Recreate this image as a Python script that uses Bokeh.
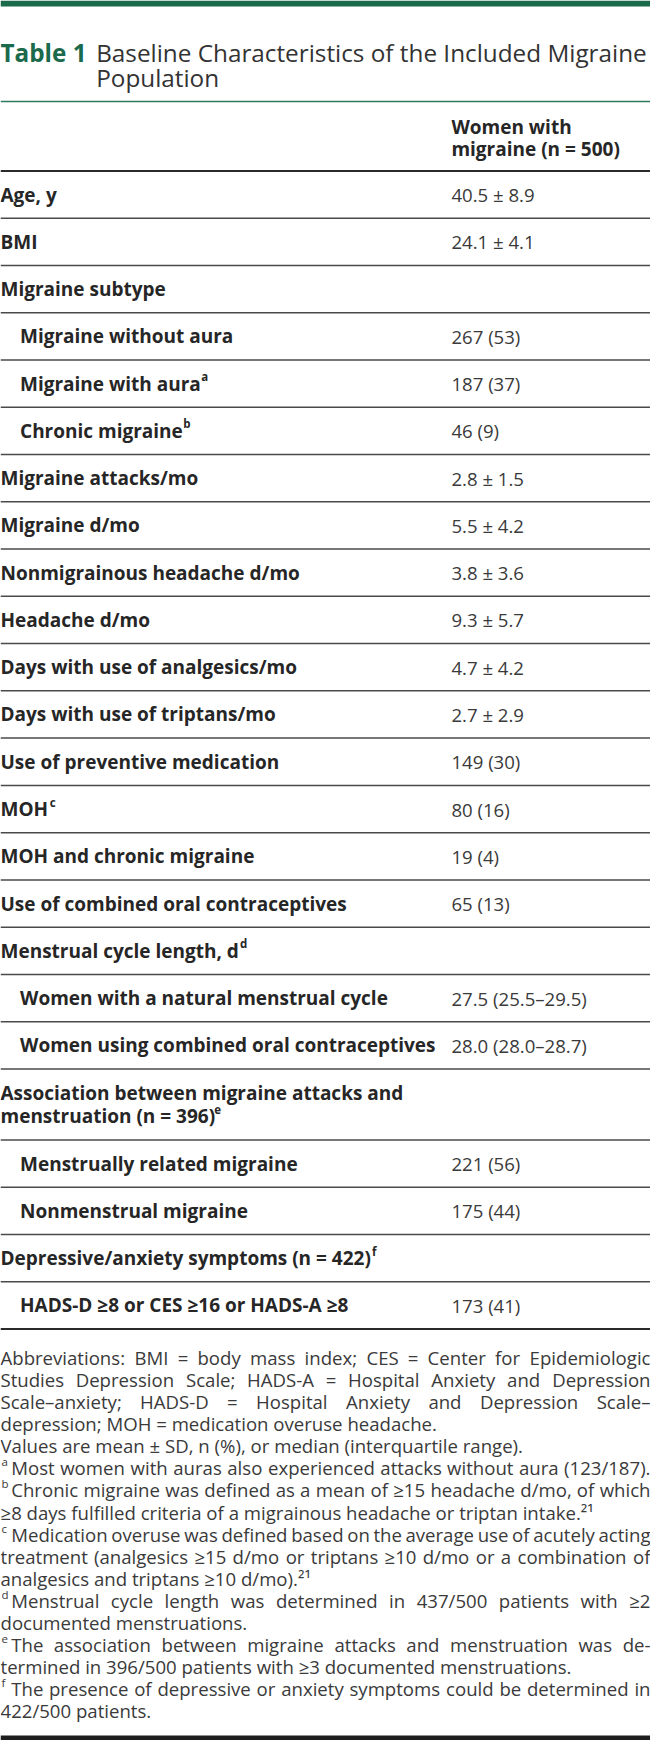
from bokeh.plotting import figure
from bokeh.models import Range1d, ColumnDataSource
from bokeh.embed import file_html
from bokeh.resources import INLINE
from bokeh.core.properties import value

# ---------------- data ----------------
title_tag = "Table 1"
title_lines = ["Baseline Characteristics of the Included Migraine", "Population"]
header_lines = ["Women with", "migraine (n = 500)"]

row_labels = [
    ["Age, y"],
    ["BMI"],
    ["Migraine subtype"],
    ["Migraine without aura"],
    ["Migraine with aura"],
    ["Chronic migraine"],
    ["Migraine attacks/mo"],
    ["Migraine d/mo"],
    ["Nonmigrainous headache d/mo"],
    ["Headache d/mo"],
    ["Days with use of analgesics/mo"],
    ["Days with use of triptans/mo"],
    ["Use of preventive medication"],
    ["MOH"],
    ["MOH and chronic migraine"],
    ["Use of combined oral contraceptives"],
    ["Menstrual cycle length, d"],
    ["Women with a natural menstrual cycle"],
    ["Women using combined oral contraceptives"],
    ["Association between migraine attacks and", "menstruation (n = 396)"],
    ["Menstrually related migraine"],
    ["Nonmenstrual migraine"],
    ["Depressive/anxiety symptoms (n = 422)"],
    ["HADS-D ≥8 or CES ≥16 or HADS-A ≥8"],
]
row_values = ["40.5 ± 8.9", "24.1 ± 4.1", "", "267 (53)", "187 (37)", "46 (9)",
              "2.8 ± 1.5", "5.5 ± 4.2", "3.8 ± 3.6", "9.3 ± 5.7", "4.7 ± 4.2",
              "2.7 ± 2.9", "149 (30)", "80 (16)", "19 (4)", "65 (13)", "",
              "27.5 (25.5–29.5)", "28.0 (28.0–28.7)", "", "221 (56)", "175 (44)",
              "", "173 (41)"]
row_indent = [0, 0, 0, 1, 1, 1, 0, 0, 0, 0, 0, 0, 0, 0, 0, 0, 0, 1, 1, 0, 1, 1, 0, 1]
row_sup = ["", "", "", "", "a", "b", "", "", "", "", "", "", "", "c", "", "", "d",
           "", "", "e", "", "", "f", ""]

fn_marks = ["", "", "", "", "", "a", "b", "", "c", "", "", "d", "", "e", "", "f", ""]
fn_texts = [
    "Abbreviations: BMI = body mass index; CES = Center for Epidemiologic",
    "Studies Depression Scale; HADS-A = Hospital Anxiety and Depression",
    "Scale–anxiety; HADS-D = Hospital Anxiety and Depression Scale–",
    "depression; MOH = medication overuse headache.",
    "Values are mean ± SD, n (%), or median (interquartile range).",
    "Most women with auras also experienced attacks without aura (123/187).",
    "Chronic migraine was defined as a mean of ≥15 headache d/mo, of which",
    "≥8 days fulfilled criteria of a migrainous headache or triptan intake.²¹",
    "Medication overuse was defined based on the average use of acutely acting",
    "treatment (analgesics ≥15 d/mo or triptans ≥10 d/mo or a combination of",
    "analgesics and triptans ≥10 d/mo).²¹",
    "Menstrual cycle length was determined in 437/500 patients with ≥2",
    "documented menstruations.",
    "The association between migraine attacks and menstruation was de-",
    "termined in 396/500 patients with ≥3 documented menstruations.",
    "The presence of depressive or anxiety symptoms could be determined in",
    "422/500 patients.",
]
fn_justify = [1, 1, 1, 0, 0, 1, 1, 0, 1, 1, 0, 1, 0, 1, 0, 1, 0]

# ---------------- approximate font metrics (Open Sans, 2048 upm) ----------------
REG = {' ': 532, 'A': 1296, 'B': 1327, 'C': 1292, 'D': 1493, 'E': 1139, 'F': 1057, 'G': 1491,
       'H': 1511, 'I': 571, 'J': 547, 'K': 1257, 'L': 1063, 'M': 1849, 'N': 1544, 'O': 1595,
       'P': 1233, 'Q': 1595, 'R': 1266, 'S': 1104, 'T': 1120, 'U': 1499, 'V': 1214, 'W': 1883,
       'X': 1147, 'Y': 1139, 'Z': 1153, 'a': 1139, 'b': 1255, 'c': 975, 'd': 1255, 'e': 1149,
       'f': 694, 'g': 1122, 'h': 1257, 'i': 518, 'j': 518, 'k': 1075, 'l': 518, 'm': 1905,
       'n': 1257, 'o': 1237, 'p': 1255, 'q': 1255, 'r': 836, 's': 977, 't': 723, 'u': 1257,
       'v': 1026, 'w': 1593, 'x': 1073, 'y': 1028, 'z': 977, '.': 545, ',': 502, ';': 545,
       ':': 545, '(': 590, ')': 590, '/': 752, '=': 1171, '-': 659, '–': 1024, '%': 1705,
       '±': 1171, '≥': 1171, '²': 745, '¹': 745}
BOLD = {' ': 532, 'A': 1479, 'B': 1436, 'C': 1341, 'D': 1565, 'E': 1188, 'F': 1124, 'G': 1552,
        'H': 1622, 'I': 713, 'K': 1384, 'L': 1151, 'M': 1980, 'N': 1683, 'O': 1653, 'P': 1366,
        'R': 1417, 'S': 1182, 'T': 1206, 'U': 1606, 'W': 2053, 'a': 1260, 'b': 1311, 'c': 1087,
        'd': 1311, 'e': 1251, 'f': 821, 'g': 1165, 'h': 1356, 'i': 621, 'k': 1290, 'l': 621,
        'm': 1995, 'n': 1356, 'o': 1296, 'p': 1311, 'r': 938, 's': 1050, 't': 883, 'u': 1356,
        'v': 1221, 'w': 1776, 'x': 1233, 'y': 1225, 'z': 1040, '.': 586, ',': 575, '(': 694,
        ')': 694, '/': 819, '=': 1171, '-': 659, '≥': 1171}
for dgt in "0123456789":
    REG[dgt] = 1171
    BOLD[dgt] = 1171

# ---------------- layout ----------------
W, H = 666.0, 1756.0
PX_W, PX_H = 650, 1740
K = W / PX_W  # data units per pixel
FS = 18.6        # regular text
FS_B = 19.0      # bold labels / header
FS_TITLE = 24.3
FS_SUP = 11.5
FONT = value("Open Sans")

GREEN = "#1b6a4c"
LABEL_C = "#262626"
VALUE_C = "#3a3a3a"
RULE_C = "#4a4a4a"


def est(s, bold=False, fs=FS):
    tbl = BOLD if bold else REG
    dflt = 1250 if bold else 1150
    w = sum(tbl.get(c, dflt) for c in s) / 2048.0 * fs * K
    return w * (0.985 if bold else 1.0)


p = figure(width=PX_W, height=PX_H, x_range=Range1d(0, W), y_range=Range1d(H, 0),
           output_backend="svg", toolbar_location=None, min_border=0)
p.axis.visible = False
p.grid.visible = False
p.outline_line_color = None
p.background_fill_color = "white"
p.border_fill_color = "white"

# top green bar and bottom dark bar
p.quad(left=[0], right=[W], top=[0], bottom=[6], fill_color=GREEN, line_color=None)
p.quad(left=[0], right=[W], top=[1751], bottom=[H], fill_color="#1e1e1e", line_color=None)

# title
p.text(x=[0], y=[52], text=[title_tag], text_font=FONT, text_font_size=f"{FS_TITLE}px",
       text_font_style="bold", text_color=GREEN, text_baseline="alphabetic")
p.text(x=[98, 98], y=[52, 78], text=title_lines, text_font=FONT,
       text_font_size=f"{FS_TITLE}px", text_color="#333333", text_baseline="alphabetic")
p.segment(x0=[0], x1=[W], y0=[102], y1=[102], line_color="#2e7a5b", line_width=1.6)

# column header
VAL_X = 462
p.text(x=[VAL_X, VAL_X], y=[128, 150], text=header_lines, text_font=FONT,
       text_font_size=f"{FS_B}px", text_font_style="bold", text_color=LABEL_C,
       text_baseline="middle")

# rows
TABLE_TOP = 172.0
ROW_H = 47.7
LINE_H = 24.0
lab_x, lab_y, lab_t = [], [], []
val_x, val_y, val_t = [], [], []
sup_x, sup_y, sup_t = [], [], []
rules = [TABLE_TOP]
y = TABLE_TOP
for lines, val, ind, sup in zip(row_labels, row_values, row_indent, row_sup):
    n = len(lines)
    h = ROW_H + LINE_H * (n - 1)
    mid = y + h / 2.0
    x0 = 20.0 if ind else 0.0
    for i, ln in enumerate(lines):
        cy = mid + (i - (n - 1) / 2.0) * LINE_H
        lab_x.append(x0)
        lab_y.append(cy)
        lab_t.append(ln)
        if sup and i == n - 1:
            sup_x.append(x0 + est(ln, bold=True, fs=FS_B) + 1.2)
            sup_y.append(cy - 7)
            sup_t.append(sup)
    if val:
        val_x.append(VAL_X)
        val_y.append(mid)
        val_t.append(val)
    y += h
    rules.append(y)

p.text(x="x", y="y", text="t", source=ColumnDataSource(dict(x=lab_x, y=lab_y, t=lab_t)),
       text_font=FONT, text_font_size=f"{FS_B}px", text_font_style="bold",
       text_color=LABEL_C, text_baseline="middle")
p.text(x="x", y="y", text="t", source=ColumnDataSource(dict(x=val_x, y=val_y, t=val_t)),
       text_font=FONT, text_font_size=f"{FS}px", text_color=VALUE_C, text_baseline="middle")
p.text(x="x", y="y", text="t", source=ColumnDataSource(dict(x=sup_x, y=sup_y, t=sup_t)),
       text_font=FONT, text_font_size=f"{FS_SUP}px", text_font_style="bold",
       text_color=LABEL_C, text_baseline="middle")

inner = rules[1:-1]
p.segment(x0=[0] * len(inner), x1=[W] * len(inner), y0=inner, y1=inner,
          line_color=RULE_C, line_width=1.5)
p.segment(x0=[0, 0], x1=[W, W], y0=[rules[0], rules[-1]], y1=[rules[0], rules[-1]],
          line_color="#2a2a2a", line_width=2)

# footnotes
FN_TOP = rules[-1] + 28.5
FN_LH = 22.3
FN_X = 11.0
lx, ly, lt = [], [], []
rx, ry, rt = [], [], []
mx, my, mt = [], [], []
for i, (mk, txt, jf) in enumerate(zip(fn_marks, fn_texts, fn_justify)):
    cy = FN_TOP + i * FN_LH
    x0 = FN_X if mk else 0.0
    if mk:
        mx.append(1.0)
        my.append(cy - 6)
        mt.append(mk)
    if not jf:
        lx.append(x0)
        ly.append(cy)
        lt.append(txt)
        continue
    words = txt.split(" ")
    widths = [est(w) for w in words]
    gap = (W - x0 - sum(widths)) / (len(words) - 1)
    xx = x0
    for j, (w, wd) in enumerate(zip(words, widths)):
        if j == len(words) - 1:
            rx.append(W)
            ry.append(cy)
            rt.append(w)
        else:
            lx.append(xx)
            ly.append(cy)
            lt.append(w)
        xx += wd + gap

p.text(x="x", y="y", text="t", source=ColumnDataSource(dict(x=lx, y=ly, t=lt)),
       text_font=FONT, text_font_size=f"{FS}px", text_color=VALUE_C, text_baseline="middle")
p.text(x="x", y="y", text="t", source=ColumnDataSource(dict(x=rx, y=ry, t=rt)),
       text_font=FONT, text_font_size=f"{FS}px", text_color=VALUE_C, text_baseline="middle",
       text_align="right")
p.text(x="x", y="y", text="t", source=ColumnDataSource(dict(x=mx, y=my, t=mt)),
       text_font=FONT, text_font_size=f"{FS_SUP}px", text_color=VALUE_C,
       text_baseline="middle")

open("out.html", "w").write(file_html(p, INLINE))
